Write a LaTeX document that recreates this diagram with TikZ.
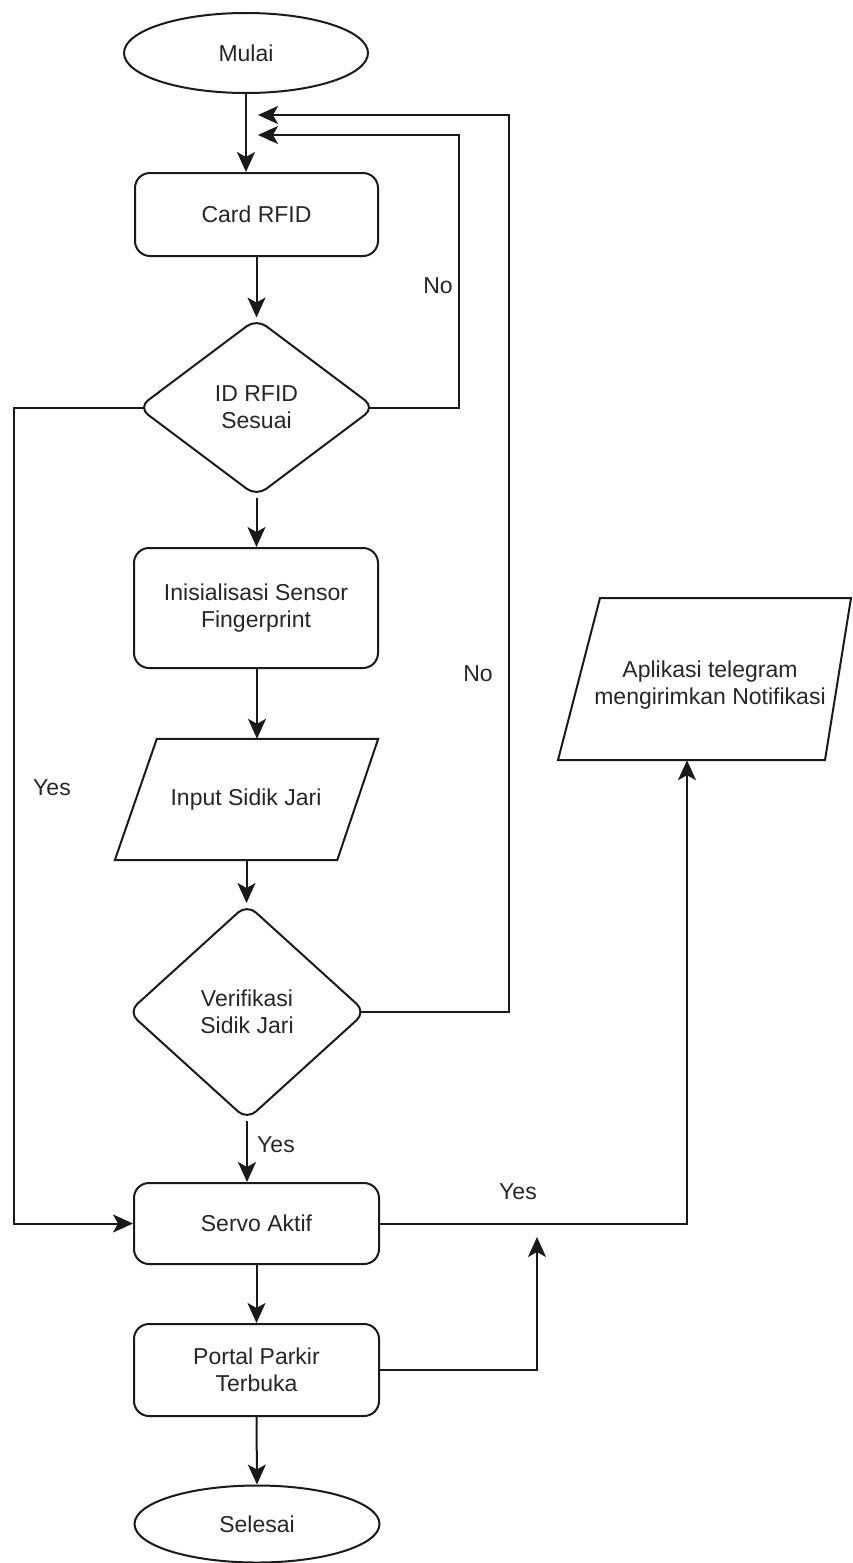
\documentclass[tikz,border=0pt]{standalone}
\usepackage{fontspec}
\setmainfont{Liberation Sans}
\usetikzlibrary{shapes.geometric,arrows.meta,calc}
\definecolor{txt}{HTML}{262626}
\definecolor{ln}{HTML}{1A1A1A}
\begin{document}
\begin{tikzpicture}[x=1pt,y=-1pt,
  every node/.style={font=\fontsize{23}{27}\selectfont, text=txt, align=center, inner sep=0pt},
  line/.style={draw=ln, line width=2pt},
  arr/.style={line, -{Stealth[length=20pt,width=18pt,inset=5pt]}},
  procbox/.style={draw=ln, line width=2pt, rectangle, rounded corners=15pt},
  termbox/.style={draw=ln, line width=2pt, ellipse},
  decbox/.style={draw=ln, line width=2pt, diamond, rounded corners=12pt},
  iobox/.style={rectangle},
  lbl/.style={font=\fontsize{23}{27}\selectfont}
]
\useasboundingbox (0,0) rectangle (852,1563);

% nodes
\node[termbox, minimum width=244, minimum height=80] (mulai) at (246,53) {Mulai};
\node[procbox, minimum width=243, minimum height=83] (card) at (256.5,214.5) {Card RFID};
\node[decbox, minimum width=237, minimum height=178] (idr) at (256.5,407.5) {ID RFID\\Sesuai};
\node[procbox, minimum width=244, minimum height=120] (inis) at (256,608) {Inisialisasi Sensor\\Fingerprint};
\node[iobox, minimum width=263, minimum height=121] (inp) at (246.5,799.5) {};
\node at (246,800) {Input Sidik Jari};
\draw[line] ($(inp.north west)+(42,0)$) -- (inp.north east) -- ($(inp.south east)+(-41,0)$) -- (inp.south west) -- cycle;
\node[decbox, minimum width=238, minimum height=216] (ver) at (247,1012) {Verifikasi\\Sidik Jari};
\node[procbox, minimum width=245, minimum height=81] (serv) at (256.5,1223.5) {Servo Aktif};
\node[procbox, minimum width=245, minimum height=92] (port) at (256.5,1370) {Portal Parkir\\Terbuka};
\node[termbox, minimum width=245, minimum height=77] (sel) at (257,1524) {Selesai};
\node[iobox, minimum width=294, minimum height=162] (apl) at (705,679) {};
\node at (710,685) {Aplikasi telegram\\mengirimkan Notifikasi};
\draw[line] (600,598) -- (851,598) -- (825,760) -- (558,760) -- cycle;

% free-end coordinates
\coordinate (tipA) at (258,115);
\coordinate (tipB) at (258,135);
\coordinate (tipC) at (537,1237);

% connectors
\draw[arr] (mulai.south) -- (mulai.south |- card.north);
\draw[arr] (card.south) -- (card.south |- idr.north);
\draw[arr] (idr.south) -- (idr.south |- inis.north);
\draw[arr] ([xshift=1pt]inis.south) -- ([xshift=1pt]inis.south |- inp.north);
\draw[arr] (inp.south) -- (inp.south |- ver.north);
\draw[arr] (ver.south) -- (ver.south |- serv.north);
\draw[arr] (serv.south) -- (port.north);
\draw[arr] (port.south) -- (sel.north);

\draw[arr] ([xshift=-7pt]idr.east) -| (459,300) |- (tipB);
\draw[arr] ([xshift=-6pt]ver.east) -| (509,500) |- (tipA);
\draw[arr] ([xshift=7pt]idr.west) -| (14,800) |- (serv.west);
\draw[arr] (serv.east) -| ([xshift=-18pt]apl.south);
\draw[arr] (port.east) -| (tipC);

% labels
\node[lbl] (no1) at (438,286) {No};
\node[lbl] (no2) at (478,674) {No};
\node[lbl] (yes1) at (52,788) {Yes};
\node[lbl] (yes2) at (276,1145) {Yes};
\node[lbl] (yes3) at (518,1192) {Yes};
\end{tikzpicture}
\end{document}
